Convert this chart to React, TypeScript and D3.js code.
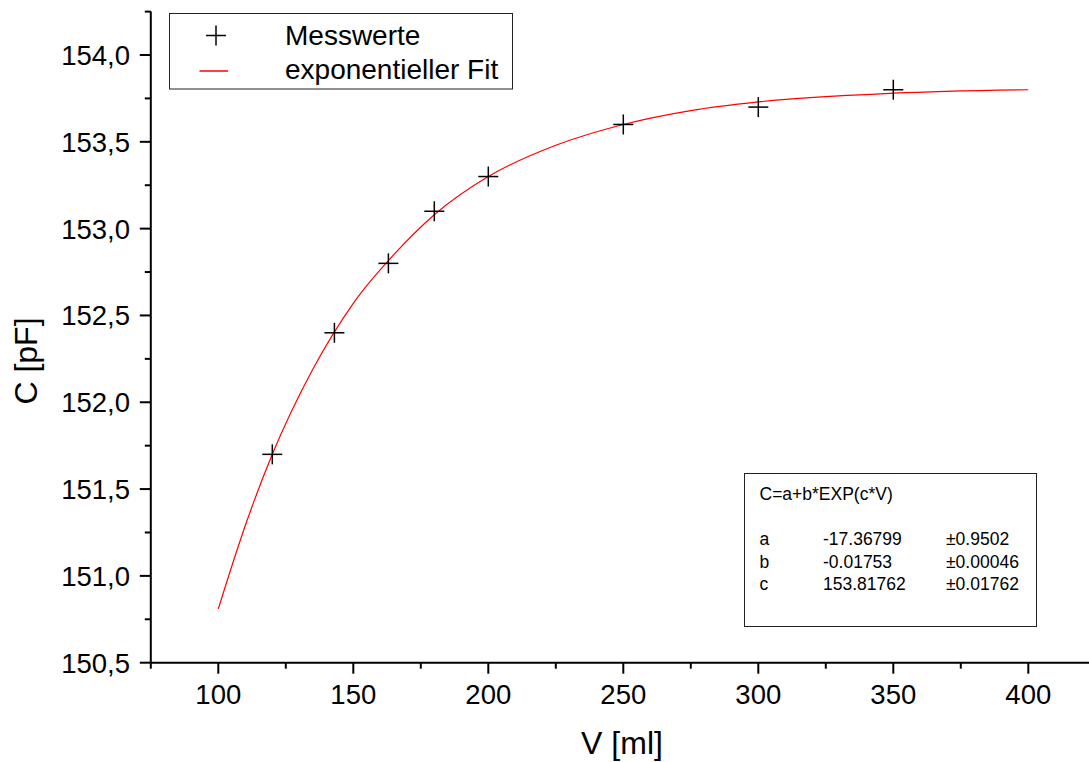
import React from "react";
import * as d3 from "d3";

// ---- data ----
const measuredV = [120, 143, 163, 180, 200, 250, 300, 350];
const measuredC = [151.7, 152.4, 152.8, 153.1, 153.3, 153.6, 153.7, 153.8];

const fitV = [100, 110, 120, 135, 150, 165, 180, 200, 225, 250, 275, 300, 350, 400];
const fitC = [150.81, 151.29, 151.7, 152.19, 152.57, 152.85, 153.08, 153.3, 153.48, 153.6, 153.68, 153.73, 153.78, 153.8];

const xMajorTicks = [100, 150, 200, 250, 300, 350, 400];
const xMinorTicks = [75, 125, 175, 225, 275, 325, 375, 425];
const yMajorTicks = [150.5, 151.0, 151.5, 152.0, 152.5, 153.0, 153.5, 154.0];
const yMinorTicks = [150.75, 151.25, 151.75, 152.25, 152.75, 153.25, 153.75, 154.25];

const legendLabels = ["Messwerte", "exponentieller Fit"];
const fitFormula = "C=a+b*EXP(c*V)";
const paramNames = ["a", "b", "c"];
const paramValues = ["-17.36799", "-0.01753", "153.81762"];
const paramErrors = ["\u00b10.9502", "\u00b10.00046", "\u00b10.01762"];

const xTitle = "V [ml]";
const yTitle = "C [pF]";

const W = 1089;
const H = 762;
const FONT = "'Liberation Sans', Arial, Helvetica, sans-serif";

export default function App() {
  const x = d3.scaleLinear().domain([75, 425]).range([150.8, 1095.8]);
  const y = d3.scaleLinear().domain([150.5, 154.25]).range([662.7, 11.6]);

  const fmtY = (v: number) => d3.format(".1f")(v).replace(".", ",");

  const fitLine = d3
    .line<number>()
    .x((_, i) => x(fitV[i]))
    .y((d) => y(d))
    .curve(d3.curveMonotoneX)(fitC) as string;

  const x0 = x(75);
  const yBottom = y(150.5);
  const yTop = y(154.25);

  const cross = (cx: number, cy: number, key: string | number) => (
    <g key={key} stroke="#000" strokeWidth={1.5}>
      <line x1={cx - 10} x2={cx + 10} y1={cy} y2={cy} />
      <line x1={cx} x2={cx} y1={cy - 10} y2={cy + 10} />
    </g>
  );

  return (
    <svg
      width={W}
      height={H}
      style={{ position: "absolute", left: 0, top: 0, background: "#fff" }}
      fontFamily={FONT}
    >
      <rect x={0} y={0} width={W} height={H} fill="#fff" />

      {/* fit curve */}
      <path d={fitLine} fill="none" stroke="#ff0000" strokeWidth={1.2} />

      {/* measured points */}
      {measuredV.map((v, i) => cross(x(v), y(measuredC[i]), i))}

      {/* x axis */}
      <line x1={x0} x2={W} y1={yBottom} y2={yBottom} stroke="#000" strokeWidth={2} />
      {xMajorTicks.map((t) => (
        <g key={"xM" + t}>
          <line x1={x(t)} x2={x(t)} y1={yBottom} y2={yBottom + 11} stroke="#000" strokeWidth={2} />
          <text x={x(t)} y={704} textAnchor="middle" fontSize={27.5} fill="#000">
            {t}
          </text>
        </g>
      ))}
      {xMinorTicks.map((t) => (
        <line key={"xm" + t} x1={x(t)} x2={x(t)} y1={yBottom} y2={yBottom + 6} stroke="#000" strokeWidth={2} />
      ))}

      {/* y axis */}
      <line x1={x0} x2={x0} y1={yTop} y2={yBottom} stroke="#000" strokeWidth={2} />
      {yMajorTicks.map((t) => (
        <g key={"yM" + t}>
          <line x1={x0 - 11} x2={x0} y1={y(t)} y2={y(t)} stroke="#000" strokeWidth={2} />
          <text x={130} y={y(t)} dy="0.36em" textAnchor="end" fontSize={27.5} fill="#000">
            {fmtY(t)}
          </text>
        </g>
      ))}
      {yMinorTicks.map((t) => (
        <line key={"ym" + t} x1={x0 - 6} x2={x0} y1={y(t)} y2={y(t)} stroke="#000" strokeWidth={2} />
      ))}

      {/* axis titles */}
      <text x={622} y={754} textAnchor="middle" fontSize={32} fill="#000">
        {xTitle}
      </text>
      <text
        transform={`translate(37,361) rotate(-90)`}
        textAnchor="middle"
        fontSize={32}
        fill="#000"
      >
        {yTitle}
      </text>

      {/* legend */}
      <rect x={169.5} y={13.5} width={343} height={75.5} fill="#fff" stroke="#222" strokeWidth={1} />
      {cross(216, 35.5, "leg")}
      <line x1={199.5} x2={228} y1={71} y2={71} stroke="#ff0000" strokeWidth={1.5} />
      <text x={285} y={44.5} fontSize={28} fill="#000">
        {legendLabels[0]}
      </text>
      <text x={285} y={79} fontSize={28} fill="#000">
        {legendLabels[1]}
      </text>

      {/* parameter box */}
      <rect x={744.5} y={473.5} width={292} height={153} fill="#fff" stroke="#222" strokeWidth={1} />
      <text x={759.5} y={500} fontSize={17.5} fill="#000">
        {fitFormula}
      </text>
      {paramNames.map((p, i) => (
        <g key={p} fontSize={17.5} fill="#000">
          <text x={759.5} y={545 + i * 22.5}>{p}</text>
          <text x={823} y={545 + i * 22.5}>{paramValues[i]}</text>
          <text x={946} y={545 + i * 22.5}>{paramErrors[i]}</text>
        </g>
      ))}
    </svg>
  );
}
